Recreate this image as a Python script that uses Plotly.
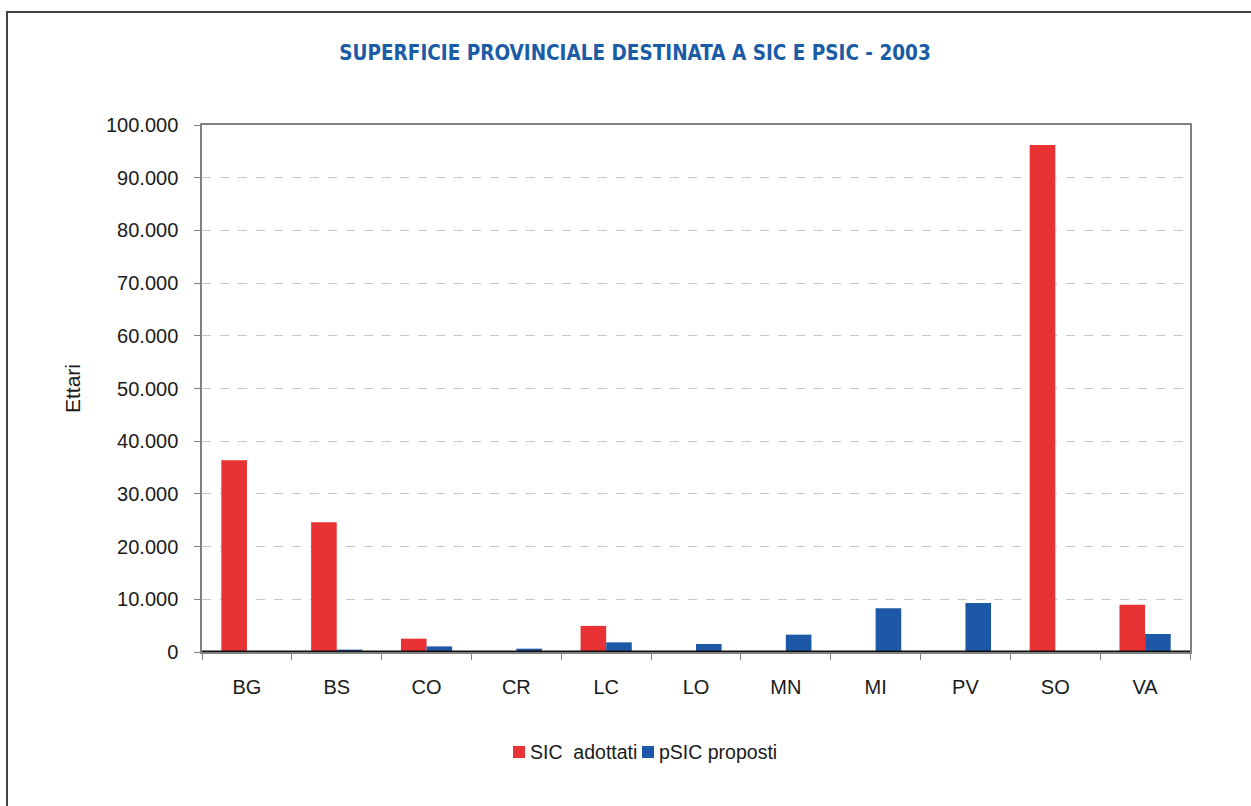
import plotly.graph_objects as go

categories = ["BG", "BS", "CO", "CR", "LC", "LO", "MN", "MI", "PV", "SO", "VA"]
sic_adottati = [36400, 24600, 2530, 0, 4950, 0, 0, 0, 0, 96200, 8950]
psic_proposti = [100, 450, 1060, 630, 1830, 1520, 3290, 8290, 9320, 0, 3420]
y_ticks = [0, 10000, 20000, 30000, 40000, 50000, 60000, 70000, 80000, 90000, 100000]
series_names = ["SIC  adottati", "pSIC proposti"]
series_colors = ["#e83233", "#1c58a6"]

W, H = 1251, 806
L, R, T, B = 202, 1190, 125, 652

fig = go.Figure()
fig.add_trace(go.Bar(x=categories, y=sic_adottati, name=series_names[0],
                     marker=dict(color=series_colors[0], line=dict(width=0))))
fig.add_trace(go.Bar(x=categories, y=psic_proposti, name=series_names[1],
                     marker=dict(color=series_colors[1], line=dict(width=0))))

pw, ph = R - L, B - T
def px(x):
    return (x - L) / pw
def py(y):
    return (B - y) / ph

fig.update_layout(
    width=W, height=H,
    margin=dict(l=L, r=W - R, t=T, b=H - B, pad=0),
    paper_bgcolor="white", plot_bgcolor="white",
    separators=",.",
    barmode="group", bargap=0.43, bargroupgap=0,
    font=dict(family="Liberation Sans, Arial, sans-serif", size=20, color="#1a1a1a"),
    title=dict(text="<b>SUPERFICIE PROVINCIALE DESTINATA A SIC E PSIC - 2003</b>",
               x=635 / W, xanchor="center", y=1 - 53 / H, yanchor="middle",
               font=dict(family="DejaVu Sans Condensed, Liberation Sans, sans-serif",
                         size=20.5, color="#1a5ca6")),
    showlegend=False,
)
fig.update_xaxes(
    type="category", showline=True, linecolor="#808080", linewidth=1.5, mirror=True,
    ticks="outside", tickson="boundaries", ticklen=6, tickcolor="#808080",
    showgrid=False, ticklabelstandoff=16, tickfont=dict(size=20),
)
fig.update_yaxes(
    range=[0, 100000], tickvals=y_ticks, tickformat=",d",
    showline=True, linecolor="#808080", linewidth=1.5, mirror=True,
    ticks="outside", ticklen=6, tickcolor="#808080", ticklabelstandoff=12,
    showgrid=True, gridcolor="#c8c8c8", griddash="dash", gridwidth=1,
    zeroline=False, tickfont=dict(size=20),
    title=dict(text="Ettari", font=dict(size=21), standoff=20),
)
# bold base line at zero
fig.add_shape(type="line", xref="paper", yref="y", x0=0, x1=1, y0=0, y1=0,
              line=dict(color="#111111", width=3), layer="above")
# outer frame
fig.add_shape(type="rect", xref="paper", yref="paper",
              x0=px(7), x1=px(1300), y0=py(900), y1=py(12),
              line=dict(color="#444444", width=2), fillcolor="rgba(0,0,0,0)")

# legend drawn manually (compact spacing as in the original)
legend_sq_left = [513, 642]
for name, color, sx in zip(series_names, series_colors, legend_sq_left):
    fig.add_shape(type="rect", xref="paper", yref="paper",
                  x0=px(sx), x1=px(sx + 12), y0=py(758), y1=py(746),
                  line=dict(width=0), fillcolor=color)
    fig.add_annotation(xref="paper", yref="paper", x=px(sx + 15), y=py(752),
                       xanchor="left", yanchor="middle", showarrow=False,
                       text=name, font=dict(size=19.5, color="#1a1a1a"))

fig.write_html("out.html", config={"displayModeBar": False},
               post_script="document.body.style.margin='0';")
